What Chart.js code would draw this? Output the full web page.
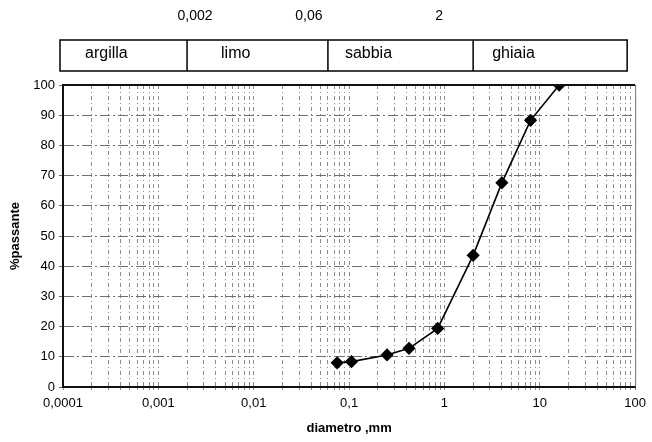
<!DOCTYPE html>
<html>
<head>
<meta charset="utf-8">
<script src="https://cdn.jsdelivr.net/npm/chart.js@4/dist/chart.umd.min.js"></script>
<style>
  html, body { margin: 0; padding: 0; background: #fff; }
  #wrap { width: 652px; height: 442px; }
</style>
</head>
<body>
<div id="wrap"><canvas id="granulometria"></canvas></div>
<script>
// curva granulometrica: diametro (mm) e % passante
const diametri = [0.075, 0.106, 0.25, 0.425, 0.85, 2, 4, 8, 16];
const passante = [8, 8.4, 10.6, 12.8, 19.4, 43.6, 67.6, 88.3, 100];

// tacche asse x (scala log) e relative etichette
const decadi = [0.0001, 0.001, 0.01, 0.1, 1, 10, 100];
const decadiLabel = ['0,0001', '0,001', '0,01', '0,1', '1', '10', '100'];
const yTicks = [0, 10, 20, 30, 40, 50, 60, 70, 80, 90, 100];

// fasce granulometriche sopra il grafico
const frazioni = ['argilla', 'limo', 'sabbia', 'ghiaia'];
const limiti = [0.002, 0.06, 2];
const limitiLabel = ['0,002', '0,06', '2'];

const FONT = '"Liberation Sans", Arial, sans-serif';

// tutte le tacche 1..9 per ogni decade
function tickLog() {
  const out = [];
  for (let d = 0; d < decadi.length - 1; d++) {
    for (let k = 1; k <= 9; k++) out.push(+(decadi[d] * k).toPrecision(3));
  }
  out.push(decadi[decadi.length - 1]);
  return out;
}

// riquadro con le frazioni + bordo superiore/destro dell'area
const fascePlugin = {
  id: 'fasce',
  afterDraw(chart) {
    const { ctx, chartArea: a, scales: { x } } = chart;
    const bTop = a.top - 45, bBot = a.top - 14;
    const left = a.left - 3, right = a.right - 8;
    const bordi = [left].concat(limiti.map(v => x.getPixelForValue(v)), [right]);
    const offTesto = [25, 34, 17, 19];
    const offLimiti = [8, -19, -34];

    ctx.save();
    // bordo area grafico
    ctx.strokeStyle = '#111';
    ctx.lineWidth = 2;
    ctx.beginPath();
    ctx.moveTo(a.left, a.top);
    ctx.lineTo(a.right, a.top);
    ctx.stroke();
    ctx.strokeStyle = '#777';
    ctx.lineWidth = 1;
    ctx.beginPath();
    ctx.moveTo(a.right + 0.5, a.top);
    ctx.lineTo(a.right + 0.5, a.bottom);
    ctx.stroke();

    // riquadro frazioni
    ctx.strokeStyle = '#000';
    ctx.lineWidth = 1.5;
    ctx.strokeRect(left, bTop, right - left, bBot - bTop);
    ctx.beginPath();
    for (let i = 1; i < bordi.length - 1; i++) {
      ctx.moveTo(bordi[i], bTop);
      ctx.lineTo(bordi[i], bBot);
    }
    ctx.stroke();

    ctx.fillStyle = '#000';
    ctx.font = '16px ' + FONT;
    ctx.textBaseline = 'middle';
    ctx.textAlign = 'left';
    frazioni.forEach((f, i) => {
      ctx.fillText(f, bordi[i] + offTesto[i], (bTop + bBot) / 2 - 2);
    });

    ctx.font = '14px ' + FONT;
    ctx.textAlign = 'center';
    limitiLabel.forEach((t, i) => {
      ctx.fillText(t, x.getPixelForValue(limiti[i]) + offLimiti[i], bTop - 24);
    });
    ctx.restore();
  }
};

new Chart(document.getElementById('granulometria'), {
  type: 'line',
  data: {
    datasets: [{
      data: diametri.map((d, i) => ({ x: d, y: passante[i] })),
      borderColor: '#000',
      backgroundColor: '#000',
      borderWidth: 1.6,
      pointStyle: 'rectRot',
      pointRadius: 5.5,
      pointHoverRadius: 5.5,
      tension: 0
    }]
  },
  options: {
    responsive: true,
    maintainAspectRatio: false,
    animation: false,
    layout: { padding: { top: 85, right: 16, left: 4, bottom: 2 } },
    plugins: {
      legend: { display: false },
      tooltip: { enabled: false }
    },
    scales: {
      x: {
        type: 'logarithmic',
        min: decadi[0],
        max: decadi[decadi.length - 1],
        afterBuildTicks: s => { s.ticks = tickLog().map(v => ({ value: v })); },
        afterFit: s => { s.height = 53; },
        ticks: {
          autoSkip: false,
          maxRotation: 0,
          color: '#000',
          font: { family: FONT, size: 13 },
          padding: 6,
          callback: v => {
            const i = decadi.findIndex(d => Math.abs(d - v) / d < 1e-6);
            return i >= 0 ? decadiLabel[i] : '';
          }
        },
        grid: {
          color: '#8c8c8c',
          lineWidth: 1,
          tickLength: 3,
          tickBorderDash: [],
          drawTicks: true
        },
        // in v4 border.dash tratteggia le linee della griglia
        border: { color: '#111', width: 2, dash: [4, 3, 1, 3] },
        title: {
          display: true,
          text: 'diametro ,mm',
          color: '#000',
          font: { family: FONT, size: 13, weight: 'bold' },
          padding: { top: 2 }
        }
      },
      y: {
        min: 0,
        max: 100,
        afterBuildTicks: s => { s.ticks = yTicks.map(v => ({ value: v })); },
        afterFit: s => { s.width = 59; },
        ticks: {
          color: '#000',
          font: { family: FONT, size: 13 },
          padding: 4
        },
        grid: {
          color: '#6e6e6e',
          lineWidth: 1,
          tickLength: 4,
          tickBorderDash: []
        },
        border: { color: '#111', width: 2, dash: [10, 3, 2, 3] },
        title: {
          display: true,
          text: '%passante',
          color: '#000',
          font: { family: FONT, size: 13, weight: 'bold' },
          padding: { bottom: 1 }
        }
      }
    }
  },
  plugins: [fascePlugin]
});
</script>
</body>
</html>
